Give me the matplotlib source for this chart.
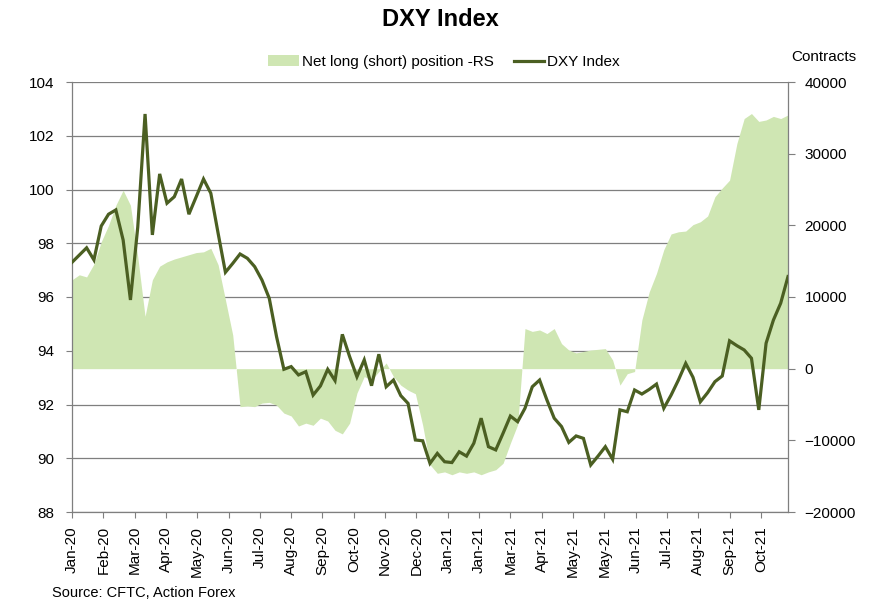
import numpy as np
import pandas as pd
import matplotlib
matplotlib.use("Agg")
from matplotlib import pyplot as plt
from matplotlib.patches import Patch
from matplotlib.lines import Line2D

plt.rcParams['font.family'] = ['Liberation Sans', 'DejaVu Sans']

# weekly COT dates (tuesdays), Jan 7 2020 .. Nov 23 2021
start_date = '2020-01-07'

dxy = [97.29, 97.56, 97.83, 97.38, 98.64, 99.08, 99.24, 98.12, 95.89, 98.6,
       102.81, 98.31, 100.58, 99.49, 99.73, 100.39, 99.08, 99.73, 100.39, 99.86,
       98.37, 96.92, 97.25, 97.6, 97.44, 97.13, 96.63, 95.95, 94.52, 93.31,
       93.41, 93.10, 93.22, 92.35, 92.69, 93.31, 92.89, 94.61, 93.78, 93.03,
       93.66, 92.70, 93.87, 92.66, 92.91, 92.33, 92.04, 90.68, 90.65, 89.81,
       90.18, 89.87, 89.84, 90.24, 90.08, 90.56, 91.49, 90.43, 90.31, 90.93,
       91.57, 91.36, 91.86, 92.66, 92.91, 92.17, 91.49, 91.18, 90.59, 90.83,
       90.74, 89.75, 90.08, 90.43, 89.96, 91.80, 91.73, 92.54, 92.39, 92.56,
       92.76, 91.86, 92.35, 92.91, 93.53, 93.01, 92.10, 92.44, 92.85, 93.06,
       94.37, 94.19, 94.03, 93.72, 91.80, 94.28, 95.14, 95.77, 96.76]

net_position = [12400, 13100, 12800, 14600, 17700, 20000, 22800, 24900, 22800, 15600,
                7300, 12400, 14300, 14900, 15300, 15600, 15900, 16200, 16300, 16800,
                14500, 9600, 4700, -5300, -5200, -5300, -4800, -4700, -5100, -6200,
                -6600, -8000, -7600, -7900, -6900, -7300, -8600, -9100, -7600, -3400,
                -1100, -1600, -400, 800, -1100, -2300, -3000, -3500, -7900, -13400,
                -14600, -14400, -14800, -14400, -14600, -14400, -14800, -14400, -14100, -13200,
                -10400, -7800, 5600, 5200, 5400, 4900, 5600, 3500, 2600, 2200,
                2400, 2600, 2700, 2800, 1200, -2300, -700, -400, 6800, 10700,
                13300, 16600, 18800, 19100, 19200, 20100, 20500, 21300, 24000, 25200,
                26300, 31400, 34900, 35600, 34500, 34700, 35200, 34900, 35400]

left_ticks = list(range(88, 105, 2))
right_ticks = list(range(-20000, 40001, 10000))

AREA_COLOR = '#cfe6b3'
LINE_COLOR = '#4b5f22'
GRID_COLOR = '#7f7f7f'

dates = pd.date_range(start_date, periods=len(dxy), freq='7D')
tick_dates = pd.date_range(start_date, dates[-1], freq='30D')

fig = plt.figure(figsize=(8.8, 6.1), dpi=100)
ax = fig.add_axes([72 / 880, 1 - 512 / 610, (788 - 72) / 880, (512 - 82) / 610])
ax2 = ax.twinx()
ax3 = ax.twinx()

ax.set_zorder(0)
ax2.set_zorder(1)
ax3.set_zorder(2)
ax2.patch.set_visible(False)
ax3.patch.set_visible(False)

# left axis: grid and ticks (under the area)
ax.set_ylim(88, 104)
ax.set_yticks(left_ticks)
ax.grid(axis='y', color=GRID_COLOR, linewidth=0.9)
ax.set_axisbelow(True)
ax.set_xlim(dates[0], dates[-1])
ax.set_xticks(tick_dates)
ax.set_xticklabels([d.strftime('%b-%y') for d in tick_dates], rotation=90)
ax.tick_params(axis='y', direction='out', length=4.5, color=GRID_COLOR,
               labelsize=11, pad=8.5)
ax.tick_params(axis='x', direction='out', length=4.5, color=GRID_COLOR,
               labelsize=11, pad=5.5)
for s in ax.spines.values():
    s.set_visible(False)

# right axis: net position area
ax2.fill_between(dates, 0, net_position, color=AREA_COLOR, linewidth=0)
ax2.set_ylim(-20000, 40000)
ax2.set_yticks(right_ticks)
ax2.tick_params(axis='y', direction='out', length=5, color=GRID_COLOR,
                labelsize=11, pad=7)
ax2.spines['top'].set_visible(False)
for side in ['left', 'right', 'bottom']:
    ax2.spines[side].set_color(GRID_COLOR)
    ax2.spines[side].set_linewidth(0.9)

# DXY line on top
ax3.plot(dates, dxy, color=LINE_COLOR, linewidth=2.3, solid_joinstyle='miter')
ax3.set_ylim(88, 104)
ax3.axis('off')

handles = [Patch(facecolor=AREA_COLOR, edgecolor='none'),
           Line2D([], [], color=LINE_COLOR, linewidth=2.3)]
fig.legend(handles, ['Net long (short) position -RS', 'DXY Index'],
           loc='center', bbox_to_anchor=(444 / 880, 1 - 62 / 610), ncol=2,
           frameon=False, fontsize=11, handlelength=2.0, handletextpad=0.2,
           columnspacing=1.3)

fig.text(0.5, 1 - 20 / 610, 'DXY Index', ha='center', va='center',
         fontsize=17, fontweight='bold')
fig.text(791 / 880, 1 - 57 / 610, 'Contracts', ha='left', va='center', fontsize=11)
fig.text(52 / 880, 1 - 593 / 610, 'Source: CFTC, Action Forex', ha='left',
         va='center', fontsize=10.5)

fig.savefig('out.png', dpi=100)
